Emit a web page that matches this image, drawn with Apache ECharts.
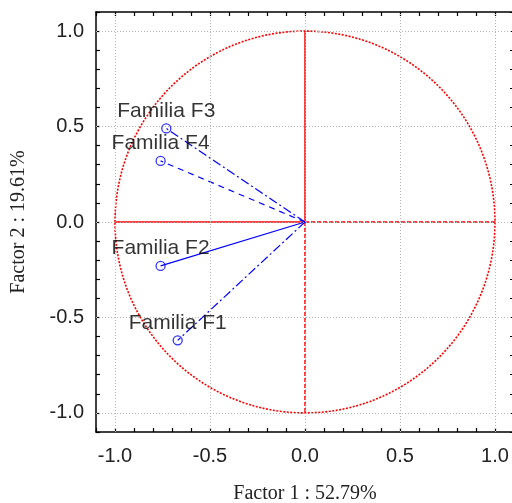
<!DOCTYPE html>
<html>
<head>
<meta charset="utf-8">
<script src="https://cdn.jsdelivr.net/npm/echarts@6/dist/echarts.min.js"></script>
<style>html,body{margin:0;padding:0;background:#fff}#c{width:512px;height:503px}</style>
</head>
<body>
<div id="c"></div>
<script>
// ---- data ----
var families = ['Familia F1', 'Familia F2', 'Familia F3', 'Familia F4'];
var factor1 = [-0.67, -0.76, -0.73, -0.76];
var factor2 = [-0.62, -0.23, 0.49, 0.32];
var gridValues = [-1.0, -0.5, 0.0, 0.5, 1.0];
var circleRadius = [1];
var xTitle = 'Factor 1 : 52.79%';
var yTitle = 'Factor 2 : 19.61%';

var lineDashes = {
  'Familia F1': [9, 3, 2, 3],
  'Familia F2': 'solid',
  'Familia F3': [9, 3, 2, 3],
  'Familia F4': [6, 5]
};

var chart = echarts.init(document.getElementById('c'));

function fmt(v) {
  var k = Math.round(v * 10);
  return (Math.abs(k) % 5 === 0 && Math.abs(k) <= 10) ? (k / 10).toFixed(1) : '';
}

var axisCommon = {
  type: 'value', min: -1.1, max: 1.1, interval: 0.1,
  axisLine: {show: true, onZero: false, lineStyle: {color: '#000', width: 1.5}},
  axisTick: {show: true, inside: true, length: 4, lineStyle: {color: '#000', width: 1.2}},
  splitLine: {show: false}
};

var series = [];

// dotted grid lines
series.push({
  type: 'scatter', data: [[0, 0]], symbolSize: 0, silent: true, z: 1,
  markLine: {
    silent: true, symbol: 'none', label: {show: false}, animation: false,
    lineStyle: {color: '#b5b5b5', type: [1, 2], width: 1},
    data: gridValues.map(function (v) { return {xAxis: v}; })
      .concat(gridValues.map(function (v) { return {yAxis: v}; }))
  }
});

// unit circle
series.push({
  type: 'custom', z: 2, silent: true,
  data: circleRadius.map(function (r) { return [0, 0, r]; }),
  renderItem: function (params, api) {
    var c = api.coord([api.value(0), api.value(1)]);
    var s = api.size([api.value(2), api.value(2)]);
    return {
      type: 'ellipse',
      shape: {cx: c[0], cy: c[1], rx: s[0], ry: s[1]},
      style: {fill: 'none', stroke: '#ff0000', lineWidth: 1.6, lineDash: [2, 1.5]}
    };
  }
});

// red cross lines
var crossSegments = [
  {d: [[-1, 0], [0, 0]], t: 'solid'},
  {d: [[0, 0], [1, 0]], t: [4, 2]},
  {d: [[0, 1], [0, 0]], t: 'solid'},
  {d: [[0, 0], [0, -1]], t: [4, 2]}
];
crossSegments.forEach(function (s) {
  series.push({
    type: 'line', data: s.d, showSymbol: false, silent: true, z: 3,
    lineStyle: {color: '#ff0000', width: 1.5, type: s.t}
  });
});

// blue vectors
families.forEach(function (f, i) {
  series.push({
    type: 'line', data: [[0, 0], [factor1[i], factor2[i]]], showSymbol: false, silent: true, z: 4,
    lineStyle: {color: '#0000ff', width: 1.2, type: lineDashes[f]}
  });
});

// points + labels
series.push({
  type: 'scatter', z: 5,
  data: families.map(function (f, i) { return {name: f, value: [factor1[i], factor2[i]]}; }),
  symbol: 'circle', symbolSize: 9,
  itemStyle: {color: 'rgba(255,255,255,0)', borderColor: '#0000ff', borderWidth: 1.3},
  label: {
    show: true, position: 'top', distance: 2,
    formatter: function (p) { return p.name; },
    fontFamily: 'Liberation Sans', fontSize: 21, color: '#000'
  }
});

chart.setOption({
  animation: false,
  backgroundColor: '#fff',
  grid: {left: 96, top: 12, width: 418, height: 420, show: false, containLabel: false, outerBoundsMode: 'none'},
  xAxis: [
    Object.assign({}, axisCommon, {
      position: 'bottom',
      name: xTitle, nameLocation: 'middle', nameGap: 52,
      nameTextStyle: {fontFamily: 'Liberation Serif', fontSize: 20, color: '#222'},
      axisLabel: {formatter: fmt, margin: 14, fontFamily: 'Liberation Sans', fontSize: 20, color: '#222',
        showMinLabel: true, showMaxLabel: true, hideOverlap: false}
    }),
    Object.assign({}, axisCommon, {position: 'top', axisLabel: {show: false}})
  ],
  yAxis: [
    Object.assign({}, axisCommon, {
      position: 'left',
      name: yTitle, nameLocation: 'middle', nameGap: 67,
      nameTextStyle: {fontFamily: 'Liberation Serif', fontSize: 20, color: '#222'},
      axisLabel: {formatter: fmt, margin: 12, fontFamily: 'Liberation Sans', fontSize: 20, color: '#222',
        showMinLabel: true, showMaxLabel: true, hideOverlap: false}
    }),
    Object.assign({}, axisCommon, {position: 'right', axisLabel: {show: false}})
  ],
  series: series
});
</script>
</body>
</html>
